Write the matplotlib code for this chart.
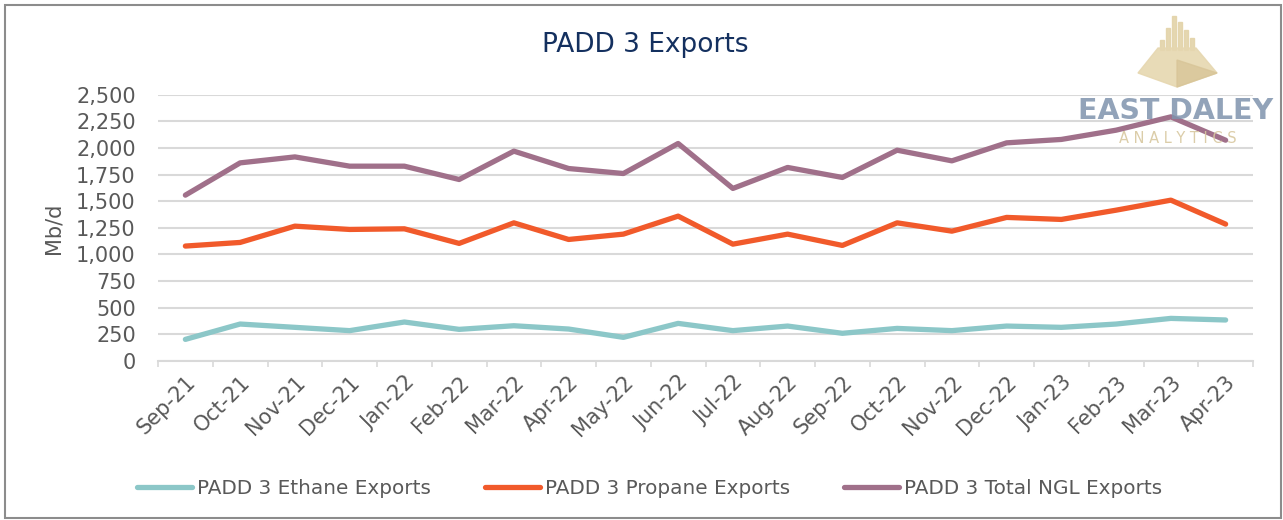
import numpy as np
import matplotlib.pyplot as plt
import matplotlib.transforms as mtransforms
from matplotlib.patches import Rectangle, Polygon

months = ['Sep-21', 'Oct-21', 'Nov-21', 'Dec-21', 'Jan-22', 'Feb-22', 'Mar-22', 'Apr-22',
          'May-22', 'Jun-22', 'Jul-22', 'Aug-22', 'Sep-22', 'Oct-22', 'Nov-22', 'Dec-22',
          'Jan-23', 'Feb-23', 'Mar-23', 'Apr-23']
ethane = [203, 347, 316, 285, 366, 297, 331, 300, 222, 353, 285, 328, 260, 306, 285, 328,
          316, 347, 400, 385]
propane = [1079, 1113, 1266, 1235, 1241, 1104, 1297, 1141, 1191, 1360, 1097, 1191, 1085,
           1297, 1219, 1348, 1329, 1416, 1510, 1285]
total_ngl = [1557, 1860, 1916, 1829, 1829, 1704, 1970, 1807, 1760, 2042, 1620, 1817, 1723,
             1979, 1879, 2048, 2080, 2167, 2292, 2073]
yticks = list(range(0, 2501, 250))

plt.rcParams['font.family'] = ['DejaVu Sans']
grey = '#595959'
W, H = 1283, 520

fig = plt.figure(figsize=(12.83, 5.2), dpi=100)
ax = fig.add_axes([158 / W, 1 - 361 / H, 1095 / W, (361 - 94.7) / H])

x = np.arange(len(months))
ax.plot(x, ethane, color='#8CC7C8', lw=3.8, solid_capstyle='round', label='PADD 3 Ethane Exports', zorder=3)
ax.plot(x, propane, color='#F15A2B', lw=3.8, solid_capstyle='round', label='PADD 3 Propane Exports', zorder=3)
ax.plot(x, total_ngl, color='#A0708A', lw=3.8, solid_capstyle='round', label='PADD 3 Total NGL Exports', zorder=3)

ax.set_xlim(-0.5, len(months) - 0.5)
ax.set_ylim(0, 2500)
ax.set_yticks(yticks)
ax.set_yticklabels(['{:,}'.format(v) for v in yticks], fontsize=15, color=grey)
ax.set_xticks(x)
ax.set_xticklabels(months, rotation=45, ha='right', va='top', rotation_mode='anchor',
                   fontsize=15, color=grey)
offset = mtransforms.ScaledTranslation(10 / 100, -3 / 100, fig.dpi_scale_trans)
for lab in ax.get_xticklabels():
    lab.set_transform(lab.get_transform() + offset)
ax.set_xticks(np.arange(-0.5, len(months)), minor=True)
ax.tick_params(axis='x', which='major', length=0, pad=8)
ax.tick_params(axis='x', which='minor', length=4.3, color='#D9D9D9', width=1.2)
ax.tick_params(axis='y', length=0, pad=16)
ax.grid(axis='y', color='#D9D9D9', lw=1.5)
ax.set_axisbelow(True)
for s in ['top', 'right', 'left']:
    ax.spines[s].set_visible(False)
ax.spines['bottom'].set_color('#D9D9D9')
ax.spines['bottom'].set_linewidth(1.5)
ax.set_ylabel('Mb/d', fontsize=15, color=grey, labelpad=9)

fig.text(645 / W, 1 - 45 / H, 'PADD 3 Exports', ha='center', va='center', fontsize=19,
         color='#14305F')

fig.legend(loc='center', bbox_to_anchor=(650 / W, 1 - 488 / H), ncol=3, frameon=False,
           fontsize=14.4, handlelength=2.75, handletextpad=0.25, columnspacing=2.7,
           labelcolor=grey)

# logo (pyramid + bars + wordmark)
def fxy(px, py):
    return [px / W, 1 - py / H]

for bx, top in [(1160, 40), (1166, 28), (1172, 16), (1178, 22), (1184, 30), (1190, 38)]:
    fig.patches.append(Rectangle(fxy(bx, 50), 4 / W, (50 - top) / H, transform=fig.transFigure,
                                 color='#E3D3A9', alpha=0.9, zorder=5))
fig.patches.append(Polygon([fxy(1158, 48), fxy(1196, 48), fxy(1217, 73), fxy(1177, 87), fxy(1138, 73)],
                           closed=True, transform=fig.transFigure, color='#E6D7B0', alpha=0.9, zorder=5))
fig.patches.append(Polygon([fxy(1177, 60), fxy(1217, 73), fxy(1177, 87)],
                           closed=True, transform=fig.transFigure, color='#D8C598', alpha=0.8, zorder=5))
fig.text(1176 / W, 1 - 111 / H, 'EAST DALEY', ha='center', va='center', fontsize=20.5,
         fontweight='bold', color='#7F93AD', alpha=0.85, zorder=6)
fig.text(1178 / W, 1 - 139 / H, 'A N A L Y T I C S', ha='center', va='center', fontsize=10.5,
         color='#D8C8A0', alpha=0.9, zorder=6)

fig.patches.append(Rectangle((5 / W, 2 / H), 1276 / W, 513 / H, transform=fig.transFigure,
                             fill=False, edgecolor='#8C8C8C', lw=1.5))

fig.savefig('out.png', dpi=100)
